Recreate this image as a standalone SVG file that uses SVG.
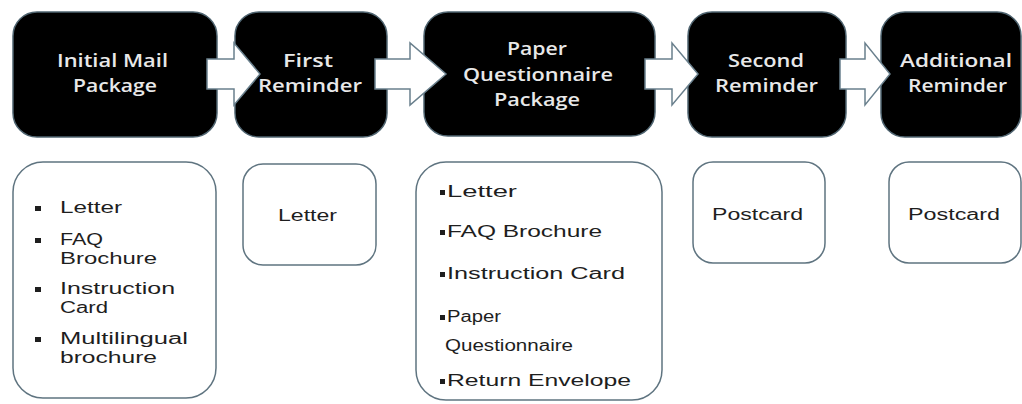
<svg xmlns="http://www.w3.org/2000/svg" width="1022" height="404" viewBox="0 0 1022 404">
<style>
.step{fill:#000;stroke:#4f6470;stroke-width:1.5}
.item{fill:#fff;stroke:#5f7480;stroke-width:1.5}
.arrow{fill:#fff;stroke:#6a808d;stroke-width:1.5;stroke-linejoin:miter}
.tt{font-family:"Open Sans","Liberation Sans",sans-serif;font-size:18px;fill:#e8e8e8;font-weight:600}
.bt{font-family:"Liberation Sans",Arial,sans-serif;font-size:16px;fill:#1e1e1e}
.bul{fill:#1e1e1e}
</style>
<rect width="1022" height="404" fill="#fff"/>
<g id="step1">
<rect class="step" x="13" y="12" width="204" height="125" rx="24"/>
<text class="tt" x="57" y="67" textLength="111" lengthAdjust="spacingAndGlyphs">Initial Mail</text>
<text class="tt" x="73" y="92" textLength="84" lengthAdjust="spacingAndGlyphs">Package</text>
</g>
<g id="step2">
<rect class="step" x="235" y="12" width="152" height="125" rx="24"/>
<text class="tt" x="283" y="67" textLength="50" lengthAdjust="spacingAndGlyphs">First</text>
<text class="tt" x="258" y="92" textLength="104" lengthAdjust="spacingAndGlyphs">Reminder</text>
</g>
<g id="step3">
<rect class="step" x="424" y="12" width="231" height="124" rx="24"/>
<text class="tt" x="507" y="55" textLength="60" lengthAdjust="spacingAndGlyphs">Paper</text>
<text class="tt" x="463" y="81" textLength="150" lengthAdjust="spacingAndGlyphs">Questionnaire</text>
<text class="tt" x="494" y="106" textLength="86" lengthAdjust="spacingAndGlyphs">Package</text>
</g>
<g id="step4">
<rect class="step" x="688" y="12" width="158" height="125" rx="24"/>
<text class="tt" x="728" y="67" textLength="76" lengthAdjust="spacingAndGlyphs">Second</text>
<text class="tt" x="715" y="92" textLength="103" lengthAdjust="spacingAndGlyphs">Reminder</text>
</g>
<g id="step5">
<rect class="step" x="881" y="12" width="140" height="125" rx="24"/>
<text class="tt" x="900" y="67" textLength="112" lengthAdjust="spacingAndGlyphs">Additional</text>
<text class="tt" x="908" y="92" textLength="99" lengthAdjust="spacingAndGlyphs">Reminder</text>
</g>
<g id="connectors">
<path class="arrow" d="M207,59 H234 V43 L260,74 L234,105 V89 H207 Z"/>
<path class="arrow" d="M375,59 H410 V43 L446,74 L410,105 V89 H375 Z"/>
<path class="arrow" d="M645,59 H672 V43 L698,74 L672,105 V89 H645 Z"/>
<path class="arrow" d="M840,59 H865 V43 L890,74 L865,105 V89 H840 Z"/>
</g>
<g id="items1">
<rect class="item" x="13" y="162" width="203" height="236" rx="30"/>
<rect class="bul" x="35" y="206" width="6" height="5"/>
<text class="bt" x="60" y="213" textLength="62" lengthAdjust="spacingAndGlyphs">Letter</text>
<rect class="bul" x="35" y="238" width="6" height="5"/>
<text class="bt" x="60" y="245" textLength="43" lengthAdjust="spacingAndGlyphs">FAQ</text>
<text class="bt" x="60" y="264" textLength="97" lengthAdjust="spacingAndGlyphs">Brochure</text>
<rect class="bul" x="35" y="287" width="6" height="5"/>
<text class="bt" x="60" y="294" textLength="115" lengthAdjust="spacingAndGlyphs">Instruction</text>
<text class="bt" x="60" y="313" textLength="48" lengthAdjust="spacingAndGlyphs">Card</text>
<rect class="bul" x="35" y="337" width="6" height="5"/>
<text class="bt" x="60" y="344" textLength="128" lengthAdjust="spacingAndGlyphs">Multilingual</text>
<text class="bt" x="60" y="363" textLength="97" lengthAdjust="spacingAndGlyphs">brochure</text>
</g>
<g id="items2">
<rect class="item" x="243" y="164" width="133" height="101" rx="20"/>
<text class="bt" x="278" y="221" textLength="59" lengthAdjust="spacingAndGlyphs">Letter</text>
</g>
<g id="items3">
<rect class="item" x="416" y="162" width="246" height="238" rx="30"/>
<rect class="bul" x="440" y="190" width="5" height="5"/>
<text class="bt" x="447" y="197" textLength="70" lengthAdjust="spacingAndGlyphs">Letter</text>
<rect class="bul" x="440" y="230" width="5" height="5"/>
<text class="bt" x="447" y="237" textLength="155" lengthAdjust="spacingAndGlyphs">FAQ Brochure</text>
<rect class="bul" x="440" y="272" width="5" height="5"/>
<text class="bt" x="447" y="279" textLength="178" lengthAdjust="spacingAndGlyphs">Instruction Card</text>
<rect class="bul" x="440" y="315" width="5" height="5"/>
<text class="bt" x="447" y="322" textLength="54" lengthAdjust="spacingAndGlyphs">Paper</text>
<text class="bt" x="445" y="351" textLength="128" lengthAdjust="spacingAndGlyphs">Questionnaire</text>
<rect class="bul" x="440" y="379" width="5" height="5"/>
<text class="bt" x="447" y="386" textLength="184" lengthAdjust="spacingAndGlyphs">Return Envelope</text>
</g>
<g id="items4">
<rect class="item" x="693" y="162" width="132" height="101" rx="20"/>
<text class="bt" x="712" y="220" textLength="91" lengthAdjust="spacingAndGlyphs">Postcard</text>
</g>
<g id="items5">
<rect class="item" x="889" y="162" width="132" height="101" rx="20"/>
<text class="bt" x="908" y="220" textLength="92" lengthAdjust="spacingAndGlyphs">Postcard</text>
</g>
</svg>
